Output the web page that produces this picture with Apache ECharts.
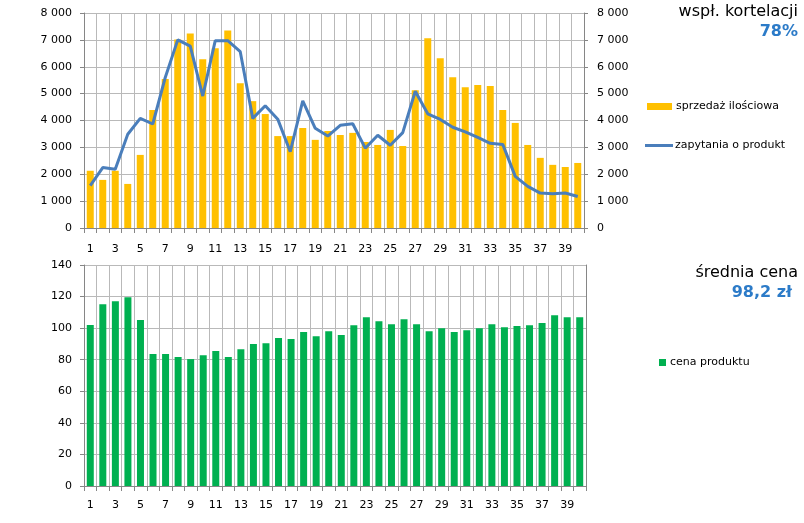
<!DOCTYPE html>
<html>
<head>
<meta charset="utf-8">
<script src="https://cdn.jsdelivr.net/npm/echarts@6/dist/echarts.min.js"></script>
<style>
html,body{margin:0;padding:0;background:#fff;}
#main{width:804px;height:523px;}
</style>
</head>
<body>
<div id="main"></div>
<script>
const categories = ['1','2','3','4','5','6','7','8','9','10','11','12','13','14','15','16','17','18','19','20',
  '21','22','23','24','25','26','27','28','29','30','31','32','33','34','35','36','37','38','39','40'];
const salesQty = [2130,1790,2130,1640,2720,4390,5540,7010,7240,6280,6690,7350,5390,4720,4240,3420,3420,3720,3280,3610,
  3460,3540,3200,3090,3650,3050,5130,7060,6320,5610,5240,5320,5280,4390,3910,3090,2610,2350,2270,2420];
const inquiries = [1580,2250,2190,3490,4080,3870,5600,7000,6770,4910,6970,6970,6560,4080,4550,4050,2840,4730,3710,3420,
  3820,3880,2970,3450,3080,3550,5090,4250,4040,3750,3580,3370,3150,3110,1920,1550,1300,1270,1300,1170];
const price = [102,115.2,117.1,119.6,105.1,83.6,83.6,81.7,80.4,82.9,85.5,81.7,86.7,89.9,90.5,93.7,93.1,97.5,94.9,98.1,
  95.6,101.9,106.9,104.4,102.5,105.7,102.5,98.1,100,97.5,98.7,100,102.5,100.6,101.3,101.9,103.2,108.2,106.9,106.9];
const seriesNames = ['sprzedaż ilościowa','zapytania o produkt','cena produktu'];
const corrTitle = 'wspł. kortelacji';
const corrValue = '78%';
const avgTitle = 'średnia cena';
const avgValue = '98,2 zł';

const FONT = 'DejaVu Sans';
const gridColor = '#b9b9b9';
const axisColor = '#868686';
const fmt = v => String(v).replace(/\B(?=(\d{3})+(?!\d))/g, ' ');

function catAxis(gridIndex, margin){
  return {
    type:'category', gridIndex, data:categories, boundaryGap:true,
    axisLine:{show:true, lineStyle:{color:axisColor}},
    axisTick:{show:true, interval:0, length:5, lineStyle:{color:axisColor}},
    axisLabel:{interval:1, margin, color:'#000', fontFamily:FONT, fontSize:11},
    splitLine:{show:true, interval:0, lineStyle:{color:gridColor}}
  };
}
function valAxis(gridIndex, max, interval, position, showLabel){
  return {
    type:'value', gridIndex, min:0, max, interval, position,
    axisLine:{show:true, lineStyle:{color:axisColor}},
    axisTick:{show:true, length:4, lineStyle:{color:axisColor}},
    axisLabel:{show:showLabel, margin:position==='left'?12:13, color:'#000', fontFamily:FONT, fontSize:11, formatter:fmt},
    splitLine:{show:true, lineStyle:{color:gridColor}}
  };
}

const chart = echarts.init(document.getElementById('main'), null, {renderer:'canvas'});
chart.setOption({
  animation:false,
  backgroundColor:'#fff',
  textStyle:{fontFamily:FONT},
  grid:[
    {left:84, top:13, width:500, height:215, show:false},
    {left:84, top:265, width:502, height:221, show:false}
  ],
  xAxis:[catAxis(0, 16), catAxis(1, 14)],
  yAxis:[
    valAxis(0, 8000, 1000, 'left', true),
    Object.assign(valAxis(0, 8000, 1000, 'right', true), {splitLine:{show:false}}),
    valAxis(1, 140, 20, 'left', true),
    Object.assign(valAxis(1, 140, 20, 'right', false), {splitLine:{show:false}, axisTick:{show:false}})
  ],
  legend:[
    {data:[{name:seriesNames[0], icon:'rect'}], left:647, top:101, orient:'vertical',
     itemWidth:25, itemHeight:7, itemGap:0, padding:0,
     textStyle:{fontFamily:FONT, fontSize:11, color:'#000', padding:[0,0,0,-1]}},
    {data:[{name:seriesNames[1], icon:'rect'}], left:645, top:140, orient:'vertical',
     itemWidth:28, itemHeight:3, itemGap:0, padding:0,
     textStyle:{fontFamily:FONT, fontSize:11, color:'#000', padding:[0,0,0,-3]}},
    {data:[{name:seriesNames[2], icon:'rect'}], left:659, top:357, orient:'vertical',
     itemWidth:7, itemHeight:7, itemGap:0, padding:0,
     textStyle:{fontFamily:FONT, fontSize:11, color:'#000', padding:[0,0,0,-1]}}
  ],
  graphic:[
    {type:'text', right:6, top:4, style:{text:corrTitle, font:'16px "DejaVu Sans"', fill:'#000'}},
    {type:'text', right:6, top:24, style:{text:corrValue, font:'bold 16px "DejaVu Sans"', fill:'#2C7BC8'}},
    {type:'text', right:6, top:265, style:{text:avgTitle, font:'16px "DejaVu Sans"', fill:'#000'}},
    {type:'text', right:12, top:285, style:{text:avgValue, font:'bold 16px "DejaVu Sans"', fill:'#2C7BC8'}}
  ],
  series:[
    {name:seriesNames[0], type:'bar', xAxisIndex:0, yAxisIndex:0, data:salesQty, barWidth:7,
     itemStyle:{color:'#FFC000'}},
    {name:seriesNames[1], type:'line', xAxisIndex:0, yAxisIndex:1, data:inquiries, symbol:'none',
     lineStyle:{color:'#4A7EBB', width:3}, itemStyle:{color:'#4A7EBB'}},
    {name:seriesNames[2], type:'bar', xAxisIndex:1, yAxisIndex:2, data:price, barWidth:7,
     itemStyle:{color:'#00B050'}}
  ]
});
</script>
</body>
</html>
